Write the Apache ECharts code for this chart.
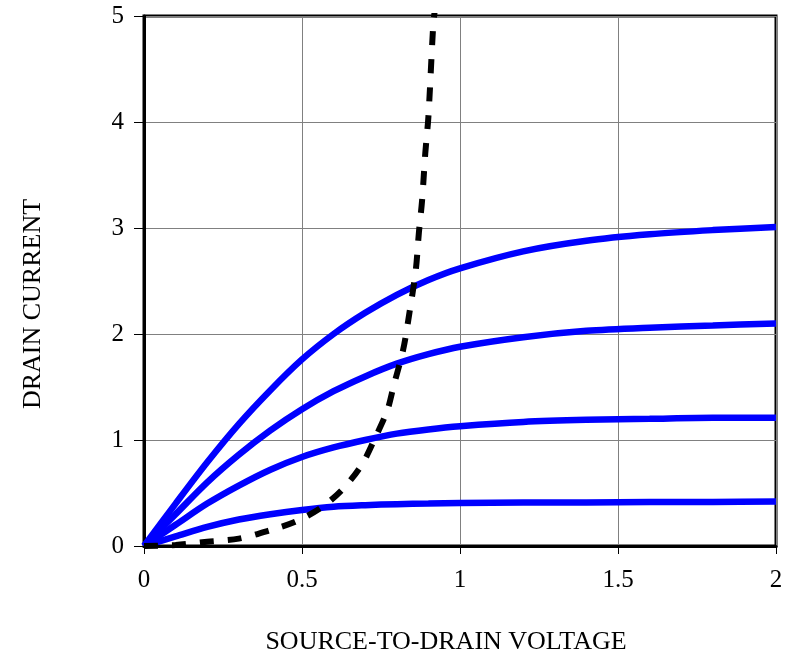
<!DOCTYPE html>
<html>
<head>
<meta charset="utf-8">
<script src="https://cdn.jsdelivr.net/npm/echarts@6/dist/echarts.min.js"></script>
<style>
  html, body { margin: 0; padding: 0; background: #fff; }
  #chart { width: 794px; height: 664px; }
</style>
</head>
<body>
<div id="chart"></div>
<script>
// source-to-drain voltage samples shared by the blue curves
const voltage = [0, 0.1, 0.2, 0.3, 0.4, 0.5, 0.6, 0.7, 0.8, 0.9, 1.0, 1.2, 1.4, 1.6, 1.8, 2.0]
// drain current curves
const current1 = [0, 0.40, 0.79, 1.15, 1.47, 1.76, 2.00, 2.20, 2.37, 2.51, 2.62, 2.78, 2.88, 2.94, 2.98, 3.01]
const current2 = [0, 0.30, 0.60, 0.86, 1.09, 1.29, 1.46, 1.60, 1.72, 1.81, 1.88, 1.97, 2.03, 2.06, 2.08, 2.10]
const current3 = [0, 0.20, 0.40, 0.57, 0.72, 0.84, 0.93, 1.00, 1.06, 1.10, 1.13, 1.17, 1.19, 1.20, 1.21, 1.21]
const current4 = [0, 0.09, 0.18, 0.25, 0.30, 0.34, 0.37, 0.385, 0.395, 0.40, 0.405, 0.41, 0.41, 0.415, 0.415, 0.42]
// dashed saturation boundary
const limitVoltage = [0, 0.1, 0.2, 0.3, 0.4, 0.48, 0.56, 0.63, 0.69, 0.73, 0.77, 0.79, 0.82, 0.84, 0.86, 0.87, 0.88, 0.89, 0.90, 0.915, 0.92]
const limitCurrent = [0, 0.01, 0.04, 0.07, 0.15, 0.23, 0.36, 0.54, 0.77, 1.01, 1.28, 1.51, 1.85, 2.2, 2.6, 2.96, 3.26, 3.7, 4.05, 4.9, 5.05]

const xTicks = [0, 0.5, 1, 1.5, 2]
const yTicks = [0, 1, 2, 3, 4, 5]

const pairs = (xs, ys) => xs.map((x, i) => [x, ys[i]])

const font = 'Liberation Serif'

const blueLine = (data) => ({
    type: 'line',
    data: data,
    smooth: 0.3,
    showSymbol: false,
    lineStyle: { color: '#0000ff', width: 6.5 },
    z: 3
})

const chart = echarts.init(document.getElementById('chart'))
chart.setOption({
    animation: false,
    grid: {
        left: 144, right: 18, top: 16, bottom: 118,
        show: true,
        borderColor: '#000',
        borderWidth: 3
    },
    xAxis: {
        type: 'value',
        min: xTicks[0], max: xTicks[xTicks.length - 1], interval: 0.5,
        axisLine: { show: true, onZero: false, lineStyle: { color: '#000', width: 3 } },
        axisTick: { show: true, length: 8, lineStyle: { color: '#000', width: 1 } },
        axisLabel: { color: '#000', fontFamily: font, fontSize: 25, margin: 22 },
        splitLine: { show: true, lineStyle: { color: '#808080', width: 1 } }
    },
    yAxis: {
        type: 'value',
        min: yTicks[0], max: yTicks[yTicks.length - 1], interval: 1,
        axisLine: { show: true, onZero: false, lineStyle: { color: '#000', width: 3 } },
        axisTick: { show: true, length: 10, lineStyle: { color: '#000', width: 1 } },
        axisLabel: { color: '#000', fontFamily: font, fontSize: 25, margin: 20 },
        splitLine: { show: true, lineStyle: { color: '#808080', width: 1 } }
    },
    graphic: [
        {
            type: 'text', x: 446, y: 642,
            style: { text: 'SOURCE-TO-DRAIN VOLTAGE', font: '26px "Liberation Serif"', fill: '#000', align: 'center', verticalAlign: 'middle' }
        },
        {
            type: 'text', x: 33, y: 304, rotation: Math.PI / 2,
            style: { text: 'DRAIN CURRENT', font: '26px "Liberation Serif"', fill: '#000', align: 'center', verticalAlign: 'middle' }
        }
    ],
    series: [
        blueLine(pairs(voltage, current1)),
        blueLine(pairs(voltage, current2)),
        blueLine(pairs(voltage, current3)),
        blueLine(pairs(voltage, current4)),
        {
            type: 'line',
            data: pairs(limitVoltage, limitCurrent),
            smooth: 0.3,
            showSymbol: false,
            clip: true,
            lineStyle: { color: '#000', width: 6, type: [14, 14] },
            z: 4
        }
    ]
})
</script>
</body>
</html>
